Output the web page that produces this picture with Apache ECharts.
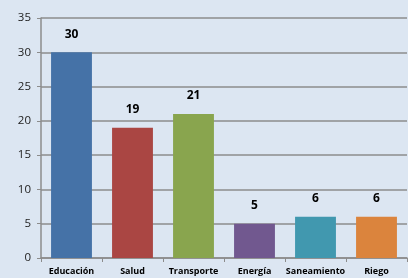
<!DOCTYPE html>
<html>
<head>
<meta charset="utf-8">
<script src="https://cdn.jsdelivr.net/npm/echarts@6/dist/echarts.min.js"></script>
<style>
  html, body { margin: 0; padding: 0; background: #dce6f2; }
  #chart { width: 408px; height: 278px; }
</style>
</head>
<body>
<div id="chart"></div>
<script>
const categories = ['Educación', 'Salud', 'Transporte', 'Energía', 'Saneamiento', 'Riego'];
const values = [30, 19, 21, 5, 6, 6];
const barColors = ['#4572a7', '#aa4643', '#89a54e', '#71588f', '#4198af', '#db843d'];

let chart = echarts.init(document.getElementById('chart'));
chart.setOption({
  backgroundColor: '#dce6f2',
  animation: false,
  grid: { left: 41, right: 1, top: 18, bottom: 20, containLabel: false },
  xAxis: {
    type: 'category',
    data: categories,
    axisLine: { lineStyle: { color: '#8c8c8c', width: 1.5 } },
    axisTick: { show: true, alignWithLabel: false, length: 4, lineStyle: { color: '#8c8c8c' } },
    axisLabel: { color: '#000', fontSize: 9, fontWeight: 'bold', fontFamily: 'Open Sans', margin: 9, interval: 0 }
  },
  yAxis: {
    type: 'value',
    min: 0, max: 35, interval: 5,
    axisLine: { show: true, lineStyle: { color: '#8c8c8c', width: 1.5 } },
    axisTick: { show: true, length: 4, lineStyle: { color: '#8c8c8c' } },
    axisLabel: { color: '#222', fontSize: 11.5, fontFamily: 'Open Sans', margin: 10 },
    splitLine: { lineStyle: { color: '#8c8c8c', width: 1.5 } }
  },
  series: [{
    type: 'bar',
    data: values.map((v, i) => ({ value: v, itemStyle: { color: barColors[i] } })),
    barWidth: '67%',
    label: {
      show: true, position: 'top', distance: 12,
      color: '#000', fontSize: 12, fontWeight: 'bold', fontFamily: 'Open Sans'
    }
  }]
});
</script>
</body>
</html>
